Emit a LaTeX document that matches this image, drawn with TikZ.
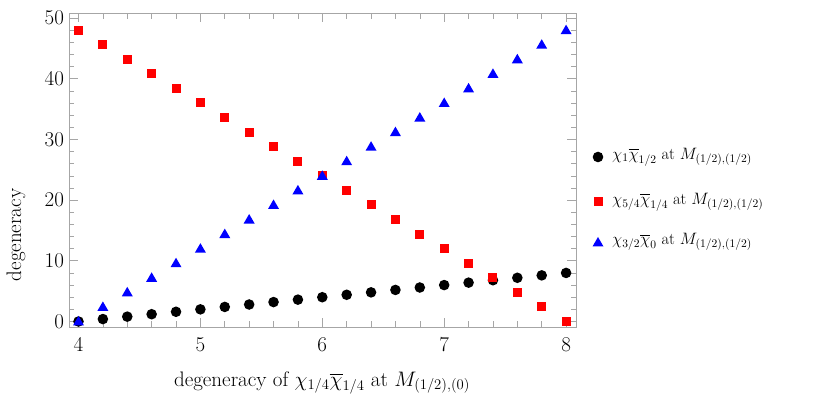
\documentclass[tikz,border=0pt]{standalone}
\usepackage{fix-cm}
\usepackage{amsmath}
\usepackage{fontspec}
\begin{document}
\begin{tikzpicture}[x=1pt,y=1pt,
  fr/.style={draw=black!35,line width=0.7pt},
  tk/.style={draw=black!35,line width=0.6pt},
  lab/.style={font=\fontsize{21}{23}\selectfont},
  leg/.style={font=\fontsize{16.5}{18}\selectfont,anchor=west,inner sep=0pt},
  dotm/.style={fill=black,draw=none},
  sqm/.style={fill=red,draw=none},
  trm/.style={fill=blue,draw=none}]
\useasboundingbox (0,0) rectangle (830,403);
\begin{scope}[shift={(78.5,81.5)},x=121.9pt,y=6.07pt]
  \draw[fr] (-0.076,-0.9) rectangle (4.08,50.8);
  \foreach \i in {0,...,20}{
    \pgfmathsetmacro\xx{\i*0.2}
    \pgfmathtruncatemacro\m{mod(\i,5)}
    \ifnum\m=0
      \draw[tk] (\xx,-0.9) -- ++(0,1.5);
      \draw[tk] (\xx,50.8) -- ++(0,-1.5);
    \else
      \draw[tk] (\xx,-0.9) -- ++(0,0.9);
      \draw[tk] (\xx,50.8) -- ++(0,-0.9);
    \fi}
  \foreach \i in {0,...,25}{
    \pgfmathsetmacro\yy{\i*2}
    \pgfmathtruncatemacro\m{mod(\i,5)}
    \ifnum\m=0
      \draw[tk] (-0.076,\yy) -- ++(0.07,0);
      \draw[tk] (4.08,\yy) -- ++(-0.07,0);
    \else
      \draw[tk] (-0.076,\yy) -- ++(0.04,0);
      \draw[tk] (4.08,\yy) -- ++(-0.04,0);
    \fi}
  \foreach \v in {4,5,6,7,8}
    \node[lab,anchor=north] (xl\v) at (\v-4,-2.0) {\v};
  \foreach \v in {0,10,20,30,40,50}
    \node[lab,anchor=east] (yl\v) at (-0.09,\v) {\v};
  \foreach \i in {0,...,20}{
    \pgfmathsetmacro\xx{\i*0.2}
    \pgfmathsetmacro\yb{2*\xx}
    \fill[dotm] (\xx,\yb) circle (5.3pt);}
  \foreach \i in {0,...,20}{
    \pgfmathsetmacro\xx{\i*0.2}
    \pgfmathsetmacro\yr{48-12*\xx}
    \fill[sqm] (\xx,\yr) ++(-4.5pt,-4.5pt) rectangle ++(9pt,9pt);}
  \foreach \i in {0,...,20}{
    \pgfmathsetmacro\xx{\i*0.2}
    \pgfmathsetmacro\yt{12*\xx}
    \fill[trm] (\xx,\yt) ++(0,5.5pt) -- ++(-5.5pt,-9.5pt) -- ++(11pt,0) -- cycle;}
\end{scope}
\node[lab] (xlab) at (322,20) {degeneracy of $\chi_{1/4}\overline{\chi}_{1/4}$ at $M_{(1/2),(0)}$};
\node[lab,rotate=90] (ylab) at (16,168) {degeneracy};
\fill[dotm] (598,246) circle (5.3pt);
\node[leg] (l1) at (612,246) {$\chi_{1}\overline{\chi}_{1/2}$ at $M_{(1/2),(1/2)}$};
\fill[sqm] (593.5,196.5) rectangle ++(9,9);
\node[leg] (l2) at (612,201) {$\chi_{5/4}\overline{\chi}_{1/4}$ at $M_{(1/2),(1/2)}$};
\fill[trm] (598,166) -- ++(-5.5,-9.5) -- ++(11,0) -- cycle;
\node[leg] (l3) at (612,161) {$\chi_{3/2}\overline{\chi}_{0}$ at $M_{(1/2),(1/2)}$};
\end{tikzpicture}
\end{document}
